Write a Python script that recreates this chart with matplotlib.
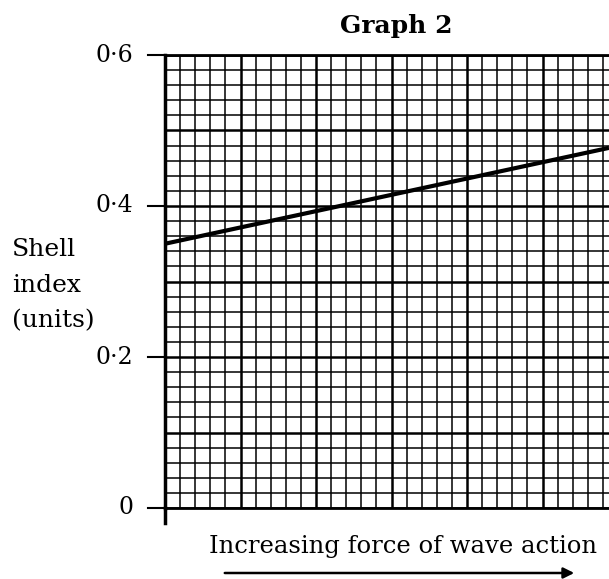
import numpy as np
import matplotlib.pyplot as plt
from matplotlib.ticker import MultipleLocator

# data (x in grid squares, y in shell index units)
line_x = [0, 29.4]
line_y = [0.35, 0.477]
ytick_vals = [0, 0.2, 0.4, 0.6]
ytick_labels = ['0', '0\u00b72', '0\u00b74', '0\u00b76']

plt.rcParams['font.family'] = ['DejaVu Serif']

fig = plt.figure(figsize=(6.09, 5.79), dpi=100)
ax = fig.add_axes([165 / 609, 71 / 579, 444 / 609, 453 / 579])

ax.set_xlim(0, 29.4)
ax.set_ylim(0, 0.6)

# graph paper grid
ax.xaxis.set_major_locator(MultipleLocator(5))
ax.xaxis.set_minor_locator(MultipleLocator(1))
ax.yaxis.set_minor_locator(MultipleLocator(0.02))
ax.yaxis.set_major_locator(MultipleLocator(0.1))
ax.grid(which='major', color='black', lw=1.8)
ax.grid(which='minor', color='black', lw=1.1)
ax.set_axisbelow(True)

# only the labelled ticks get marks
ax.tick_params(axis='both', which='both', length=0, labelbottom=False, labelleft=False)
for v, lab in zip(ytick_vals, ytick_labels):
    ax.plot([-1.1, 0], [v, v], color='black', lw=1.5, clip_on=False)
    ax.text(-2.1, v, lab, ha='right', va='center', fontsize=17)
ax.plot([0, 0], [-0.02, 0], color='black', lw=2.5, clip_on=False)

ax.spines['right'].set_visible(False)
ax.spines['left'].set_linewidth(2.5)
ax.spines['bottom'].set_linewidth(2)
ax.spines['top'].set_linewidth(2)

ax.plot(line_x, line_y, color='black', lw=3, solid_capstyle='butt', clip_on=False)

fig.text(396 / 609, 1 - 26 / 579, 'Graph 2', ha='center', va='center',
         fontsize=18, fontweight='bold')
fig.text(12 / 609, 1 - 285 / 579, 'Shell\nindex\n(units)', ha='left', va='center',
         fontsize=18, linespacing=1.7)
fig.text(403 / 609, 1 - 546 / 579, 'Increasing force of wave action',
         ha='center', va='center', fontsize=17.5)
ax.annotate('', xy=(577 / 609, 1 - 573 / 579), xytext=(222 / 609, 1 - 573 / 579),
            xycoords='figure fraction', textcoords='figure fraction',
            arrowprops=dict(arrowstyle='-|>', color='black', lw=1.8,
                            mutation_scale=16))

fig.savefig('out.png', dpi=100)
